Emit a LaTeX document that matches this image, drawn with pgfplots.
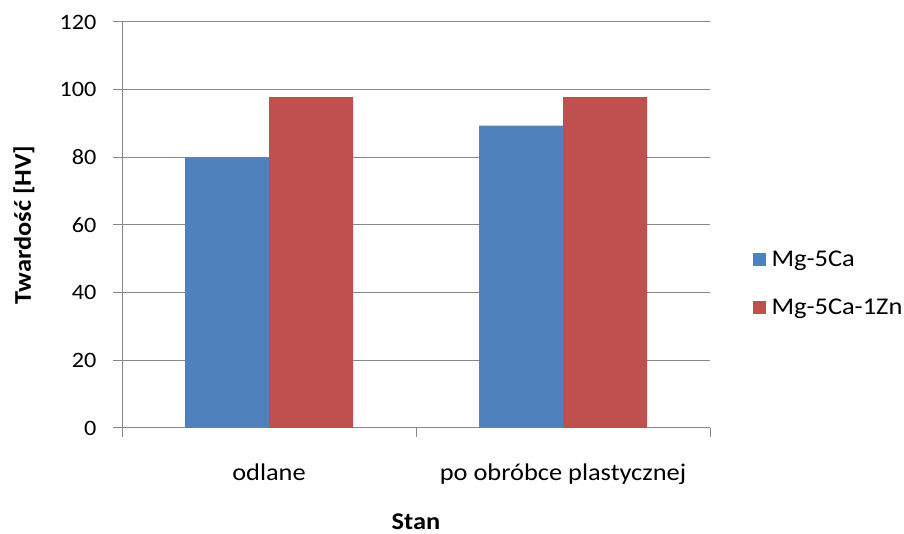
\documentclass[border=0pt]{standalone}
\usepackage{pgfplots}
\pgfplotsset{compat=1.18}
\usepackage{fontspec}
\setmainfont[FakeStretch=1.1]{Carlito}
\definecolor{xblue}{HTML}{4F81BD}
\definecolor{xred}{HTML}{C0504D}
\definecolor{xgrid}{HTML}{888888}
\newcommand{\tf}{\fontsize{24pt}{28pt}\selectfont}
\newcommand{\nf}{\fontsize{22pt}{26pt}\selectfont}
\begin{document}
\begin{tikzpicture}[x=1pt,y=1pt]
\path[use as bounding box] (0,0) rectangle (904,534);
\begin{axis}[
  at={(122pt,106pt)}, anchor=south west,
  scale only axis, width=588pt, height=406pt,
  xmin=-0.5, xmax=1.5, ymin=0, ymax=120,
  ytick={0,20,...,120},
  xtick={-0.5,0.5,1.5}, xticklabels={},
  extra x ticks={0,1},
  extra x tick labels={odlane, po obróbce plastycznej},
  extra x tick style={major tick length=0pt, xticklabel style={yshift=-32pt, font=\tf}},
  axis x line*=bottom, axis y line*=left,
  axis line style={draw=xgrid, line width=1pt, -},
  tick align=outside, major tick length=9pt,
  tick style={draw=xgrid, line width=1pt},
  ymajorgrids, grid style={draw=xgrid, line width=1pt},
  /pgf/number format/assume math mode=true,
  tick label style={font=\nf},
  yticklabel style={xshift=-13pt},
  ylabel={\bfseries Twardość [HV]},
  xlabel={\bfseries Stan},
  every axis y label/.style={at={(axis description cs:-0.167,0.5)}, rotate=90, anchor=center, font=\tf},
  every axis x label/.style={at={(axis description cs:0.5,-0.2315)}, anchor=center, font=\tf},
  ybar, bar width=84pt,
  legend style={at={(axis description cs:1.072,0.355)}, anchor=west, draw=none, fill=none,
    font=\tf, row sep=27pt, inner sep=0pt,
    /tikz/every even column/.style={column sep=0pt}},
  legend cell align=left,
  legend image code/.code={\fill[#1] (0pt,-6.5pt) rectangle (13pt,6.5pt);},
]
\addplot[fill=xblue, draw=none, bar shift=-42pt] coordinates {(0,80) (1,89.4)};
\addplot[fill=xred, draw=none, bar shift=42pt] coordinates {(0,97.8) (1,97.8)};
\legend{\hspace{4pt}Mg-5Ca, \hspace{4pt}Mg-5Ca-1Zn}
\end{axis}
\end{tikzpicture}
\end{document}
